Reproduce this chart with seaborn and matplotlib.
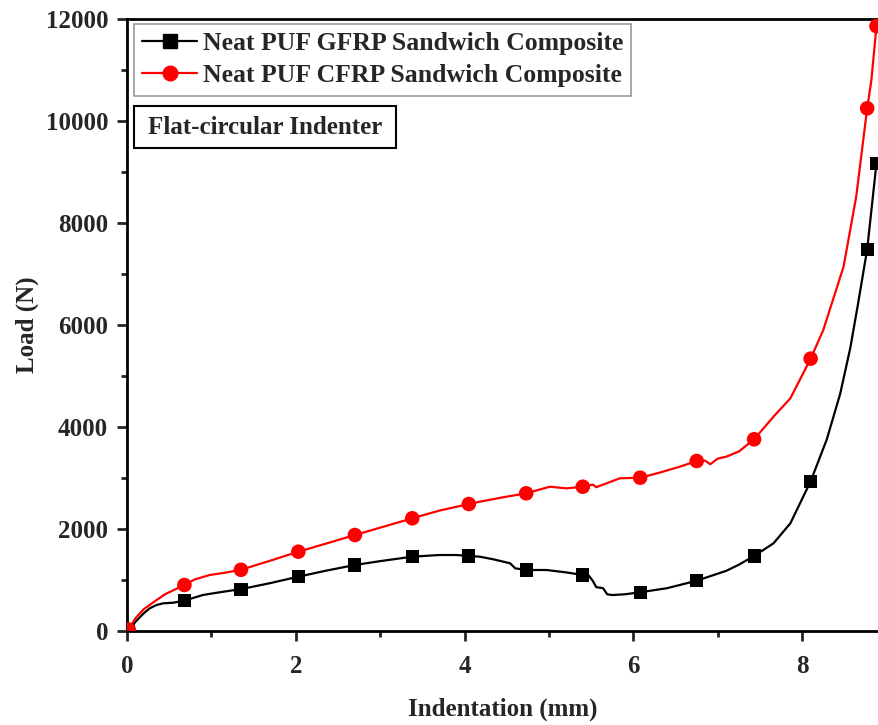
import numpy as np
import pandas as pd
import seaborn as sns
import matplotlib
matplotlib.use("Agg")
import matplotlib.pyplot as plt
from matplotlib.lines import Line2D
from matplotlib.patches import Rectangle
from matplotlib.ticker import MultipleLocator

# Load-indentation curves (mm, N)
gfrp_x = [0.02, 0.10, 0.20, 0.27, 0.35, 0.43, 0.55, 0.68, 0.90, 1.10, 1.35, 1.70,
          2.03, 2.35, 2.70, 3.00, 3.38, 3.70, 3.90, 4.05, 4.18, 4.34, 4.54, 4.60,
          4.73, 4.97, 5.20, 5.40, 5.47, 5.52, 5.56, 5.64, 5.69, 5.75, 5.90, 6.08,
          6.40, 6.75, 7.10, 7.25, 7.43, 7.66, 7.86, 8.10, 8.29, 8.45, 8.57, 8.66,
          8.77, 8.88]
gfrp_y = [20, 180, 350, 445, 510, 543, 555, 596, 706, 760, 821, 940,
          1065, 1180, 1294, 1370, 1457, 1490, 1490, 1471, 1457, 1406, 1327, 1229,
          1196, 1196, 1150, 1098, 1090, 980, 860, 840, 720, 705, 720, 759,
          840, 986, 1180, 1300, 1471, 1719, 2112, 2935, 3750, 4650, 5550, 6400,
          7484, 9170]

cfrp_x = [0.02, 0.10, 0.20, 0.31, 0.45, 0.68, 0.80, 0.98, 1.15, 1.35, 1.70,
          2.03, 2.35, 2.70, 3.05, 3.38, 3.70, 4.05, 4.18, 4.45, 4.73, 5.01,
          5.21, 5.40, 5.52, 5.56, 5.84, 6.08, 6.30, 6.55, 6.75, 6.85, 6.91,
          7.00, 7.10, 7.25, 7.43, 7.66, 7.86, 7.91, 8.10, 8.25, 8.49, 8.64,
          8.77, 8.82, 8.88]
cfrp_y = [30, 250, 430, 560, 720, 902, 1010, 1098, 1140, 1200, 1380,
          1555, 1710, 1882, 2050, 2210, 2360, 2490, 2535, 2620, 2700, 2829,
          2797, 2829, 2870, 2820, 2994, 3006, 3100, 3222, 3333, 3340, 3270,
          3380, 3418, 3520, 3759, 4202, 4563, 4725, 5340, 5902, 7143, 8516,
          10249, 10804, 11860]

# Symbol positions along each curve
gfrp_mx = [0.02, 0.68, 1.35, 2.03, 2.70, 3.38, 4.05, 4.73, 5.40, 6.08, 6.75, 7.43, 8.10, 8.77, 8.88]
gfrp_my = [20, 596, 821, 1065, 1294, 1457, 1471, 1196, 1098, 759, 986, 1471, 2935, 7484, 9170]
cfrp_mx = [0.02, 0.68, 1.35, 2.03, 2.70, 3.38, 4.05, 4.73, 5.40, 6.08, 6.75, 7.43, 8.10, 8.77, 8.88]
cfrp_my = [30, 902, 1200, 1555, 1882, 2210, 2490, 2700, 2829, 3006, 3333, 3759, 5340, 10249, 11860]

labels = ["Neat PUF GFRP Sandwich Composite", "Neat PUF CFRP Sandwich Composite"]
colors = {labels[0]: "black", labels[1]: "#ff0000"}

curves = pd.concat([
    pd.DataFrame({"x": gfrp_x, "y": gfrp_y, "s": labels[0]}),
    pd.DataFrame({"x": cfrp_x, "y": cfrp_y, "s": labels[1]}),
])
points = pd.concat([
    pd.DataFrame({"x": gfrp_mx, "y": gfrp_my, "s": labels[0]}),
    pd.DataFrame({"x": cfrp_mx, "y": cfrp_my, "s": labels[1]}),
])

sns.set_theme(style="ticks")
plt.rcParams["font.family"] = ["Liberation Serif", "DejaVu Serif"]
plt.rcParams["font.weight"] = "bold"

fig = plt.figure(figsize=(8.79, 7.25), dpi=100)
ax = fig.add_axes([127 / 879, 1 - 631 / 725, 1 - 127 / 879, (631 - 19) / 725])

sns.lineplot(data=curves, x="x", y="y", hue="s", palette=colors, sort=False,
             estimator=None, lw=1.6, legend=False, ax=ax)
sns.scatterplot(data=points[points["s"] == labels[0]], x="x", y="y", color="black",
                marker="s", s=90, edgecolor="none", legend=False, ax=ax, zorder=3)
sns.scatterplot(data=points[points["s"] == labels[1]], x="x", y="y", color="#ff0000",
                marker="o", s=110, edgecolor="none", legend=False, ax=ax, zorder=3)

ax.set_xlim(0, 8.91)
ax.set_ylim(0, 12000)
ax.xaxis.set_major_locator(MultipleLocator(2))
ax.xaxis.set_minor_locator(MultipleLocator(1))
ax.yaxis.set_major_locator(MultipleLocator(2000))
ax.yaxis.set_minor_locator(MultipleLocator(1000))
ax.tick_params(which="major", direction="out", length=7.5, width=2, labelsize=18)
ax.tick_params(axis="x", which="major", pad=10)
ax.tick_params(axis="y", which="major", pad=6)
ax.tick_params(which="minor", direction="out", length=4, width=2)
for lab in ax.get_xticklabels() + ax.get_yticklabels():
    lab.set_fontweight("bold")
for side in ["left", "bottom", "top"]:
    ax.spines[side].set_linewidth(2)
    ax.spines[side].set_color("black")
ax.spines["right"].set_visible(False)

ax.set_xlabel("Indentation (mm)", fontsize=18, fontweight="bold", labelpad=14)
ax.set_ylabel("Load (N)", fontsize=18, fontweight="bold", labelpad=5)

handles = [
    Line2D([], [], color="black", lw=1.6, marker="s", markersize=9.5),
    Line2D([], [], color="#ff0000", lw=1.6, marker="o", markersize=10.5),
]
leg = ax.legend(handles, labels, loc="upper left", bbox_to_anchor=(0.0093, 0.9918),
                borderaxespad=0, frameon=True, fancybox=False,
                handlelength=2.15, handletextpad=0.2, borderpad=0.32, labelspacing=0.36,
                prop={"weight": "bold", "size": 18.5})
leg.get_frame().set_edgecolor("#808080")
leg.get_frame().set_linewidth(1.2)

# Annotation box for the indenter type
ax.add_patch(Rectangle((7 / 752, 1 - 129 / 612), 262 / 752, 42 / 612,
                       transform=ax.transAxes, fc="white", ec="black", lw=1.5,
                       zorder=4, clip_on=False))
ax.text(138 / 752, 1 - 108 / 612, "Flat-circular Indenter",
        transform=ax.transAxes, ha="center", va="center", fontsize=18,
        fontweight="bold", zorder=5)

fig.savefig("out.png", dpi=100)
